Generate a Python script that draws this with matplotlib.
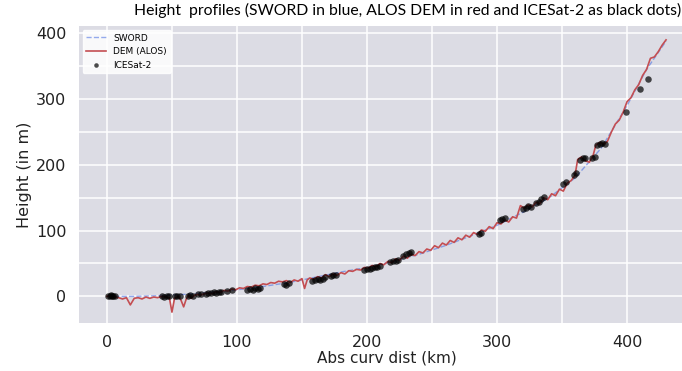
import matplotlib
matplotlib.use("Agg")
import matplotlib.pyplot as plt
from matplotlib.ticker import MultipleLocator

# SWORD centerline heights (smooth)
sword_km = [0, 20, 40, 60, 80, 100, 120, 140, 160, 180, 200, 220, 240, 260,
            280, 300, 320, 340, 360, 380, 400, 415, 430]
sword_h = [0, 0, 1, 3, 6, 10, 15, 21, 29, 37, 44, 53, 64, 77,
           92, 108, 128, 150, 180, 225, 290, 345, 388]

# ALOS DEM profile (noisy)
dem_km = [0, 3, 6, 9, 12, 15, 18, 21, 24, 27, 30, 33, 36, 39, 42, 45, 48, 50,
          52, 55, 57, 59, 61, 63, 65, 67, 69, 72, 75, 78, 81, 84, 87, 90, 93,
          96, 99, 102, 105, 108, 111, 114, 117, 120, 123, 126, 129, 132, 135,
          138, 141, 144, 147, 150, 152, 154, 156, 159, 162, 165, 168, 171, 174,
          177, 180, 183, 186, 189, 192, 195, 198, 201, 204, 207, 210, 213, 216,
          219, 222, 225, 228, 231, 234, 237, 240, 243, 246, 249, 252, 255, 258,
          261, 264, 267, 270, 273, 276, 279, 282, 285, 288, 291, 294, 297, 300,
          303, 306, 309, 312, 315, 318, 321, 324, 327, 330, 333, 336, 339, 342,
          345, 348, 351, 354, 357, 360, 362, 365, 368, 371, 374, 376, 379, 382,
          385, 388, 391, 394, 397, 400, 403, 406, 409, 412, 415, 418, 421, 424,
          427, 430]
dem_h = [0, 1, -1, -2, -4, -2, -13, -3, -2, -4, -1, -3, -1, -2, 0, -1, -2, -24,
         -3, 0, -6, -16, -4, 2, -3, 1, 3, 2, 4, 5, 4, 7, 6, 9, 8,
         11, 10, 13, 12, 15, 14, 17, 16, 19, 18, 21, 20, 23, 22,
         24, 21, 25, 23, 27, 12, 25, 28, 26, 30, 28, 33, 30, 34,
         32, 36, 34, 39, 38, 41, 40, 44, 43, 47, 45, 50, 48, 53,
         51, 57, 55, 61, 58, 64, 62, 68, 66, 72, 70, 77, 74, 81,
         78, 85, 82, 89, 86, 93, 90, 97, 94, 101, 99, 106, 103, 112,
         110, 116, 113, 121, 119, 138, 134, 139, 136, 143, 141, 150, 147, 156,
         153, 163, 160, 172, 176, 184, 208, 212, 206, 204, 215, 230, 234, 231,
         236, 250, 262, 268, 280, 296, 302, 314, 322, 336, 345, 362, 364, 372,
         382, 390]

# ICESat-2 points
ice_km = [1, 2, 3, 4, 5, 6,
          42, 44, 46, 48, 52, 54, 56, 62, 64, 66, 70, 72,
          76, 78, 80, 82, 84, 86, 88, 92, 96,
          108, 110, 112, 114, 116, 118,
          136, 138, 140,
          158, 160, 162, 164, 166, 168, 172, 174, 176,
          198, 200, 202, 204, 206, 208, 210,
          218, 220, 222, 224, 228, 230, 232, 234,
          286, 288, 302, 304, 306,
          320, 322, 324, 326, 330, 332, 334, 336,
          351, 353, 359, 361, 364, 366, 368, 373, 375,
          377, 379, 381, 383, 399, 410, 416]
ice_h = [1, 0, 2, 1, 0, 1,
         0, -1, 0, 1, 0, 1, 0, 1, 2, 1, 3, 3,
         4, 5, 5, 6, 5, 6, 7, 8, 9,
         10, 11, 10, 12, 11, 12,
         19, 18, 20,
         24, 25, 26, 25, 27, 29, 31, 32, 33,
         40, 41, 42, 43, 44, 45, 46,
         52, 53, 54, 55, 62, 64, 66, 67,
         95, 97, 116, 118, 119,
         133, 135, 137, 136, 142, 144, 148, 151,
         171, 174, 185, 188, 208, 210, 211, 210, 212,
         230, 232, 233, 232, 281, 316, 330]

TITLE = "Height  profiles (SWORD in blue, ALOS DEM in red and ICESat-2 as black dots)"


def main() -> None:
    plt.rcParams["font.family"] = ["DejaVu Sans"]
    fig = plt.figure(figsize=(6.82, 3.71), dpi=100)
    ax = fig.add_axes([0.1158, 0.1294, 0.9018, 0.7995])
    ax.set_facecolor("#dcdce4")
    for side in ax.spines.values():
        side.set_visible(False)

    ax.plot(sword_km, sword_h, ls="--", color="royalblue", alpha=0.55, lw=1.0, label="SWORD")
    ax.plot(dem_km, dem_h, color="#c44e52", lw=1.2, label="DEM (ALOS)")
    ax.scatter(ice_km, ice_h, s=22, color="black", alpha=0.7, lw=0, label="ICESat-2", zorder=3)

    ax.set_xlim(-21.5, 451.5)
    ax.set_ylim(-40.5, 410.5)
    ax.xaxis.set_major_locator(MultipleLocator(100))
    ax.xaxis.set_minor_locator(MultipleLocator(50))
    ax.yaxis.set_major_locator(MultipleLocator(100))
    ax.yaxis.set_minor_locator(MultipleLocator(50))
    ax.grid(True, which="both", color="white", lw=1.1)
    ax.set_axisbelow(True)
    ax.tick_params(which="both", length=0, labelsize=11.5, colors="#222222")
    ax.tick_params(axis="x", pad=9)
    ax.tick_params(axis="y", pad=9)

    ax.set_xlabel("Abs curv dist (km)", fontsize=11, labelpad=0, color="#222222")
    ax.set_ylabel("Height (in m)", fontsize=11.5, labelpad=3, color="#222222")

    leg = ax.legend(loc="upper left", fontsize=6.5, frameon=True, framealpha=0.85,
                    borderaxespad=0.4, handlelength=2.2, markerscale=0.7)
    leg.get_frame().set_edgecolor("white")

    fig.text(0.597, 0.973, TITLE, ha="center", va="center", fontsize=11.3,
             family=["Lato", "DejaVu Sans"])

    fig.savefig("out.png", dpi=100)
    plt.close(fig)


if __name__ == "__main__":
    main()
